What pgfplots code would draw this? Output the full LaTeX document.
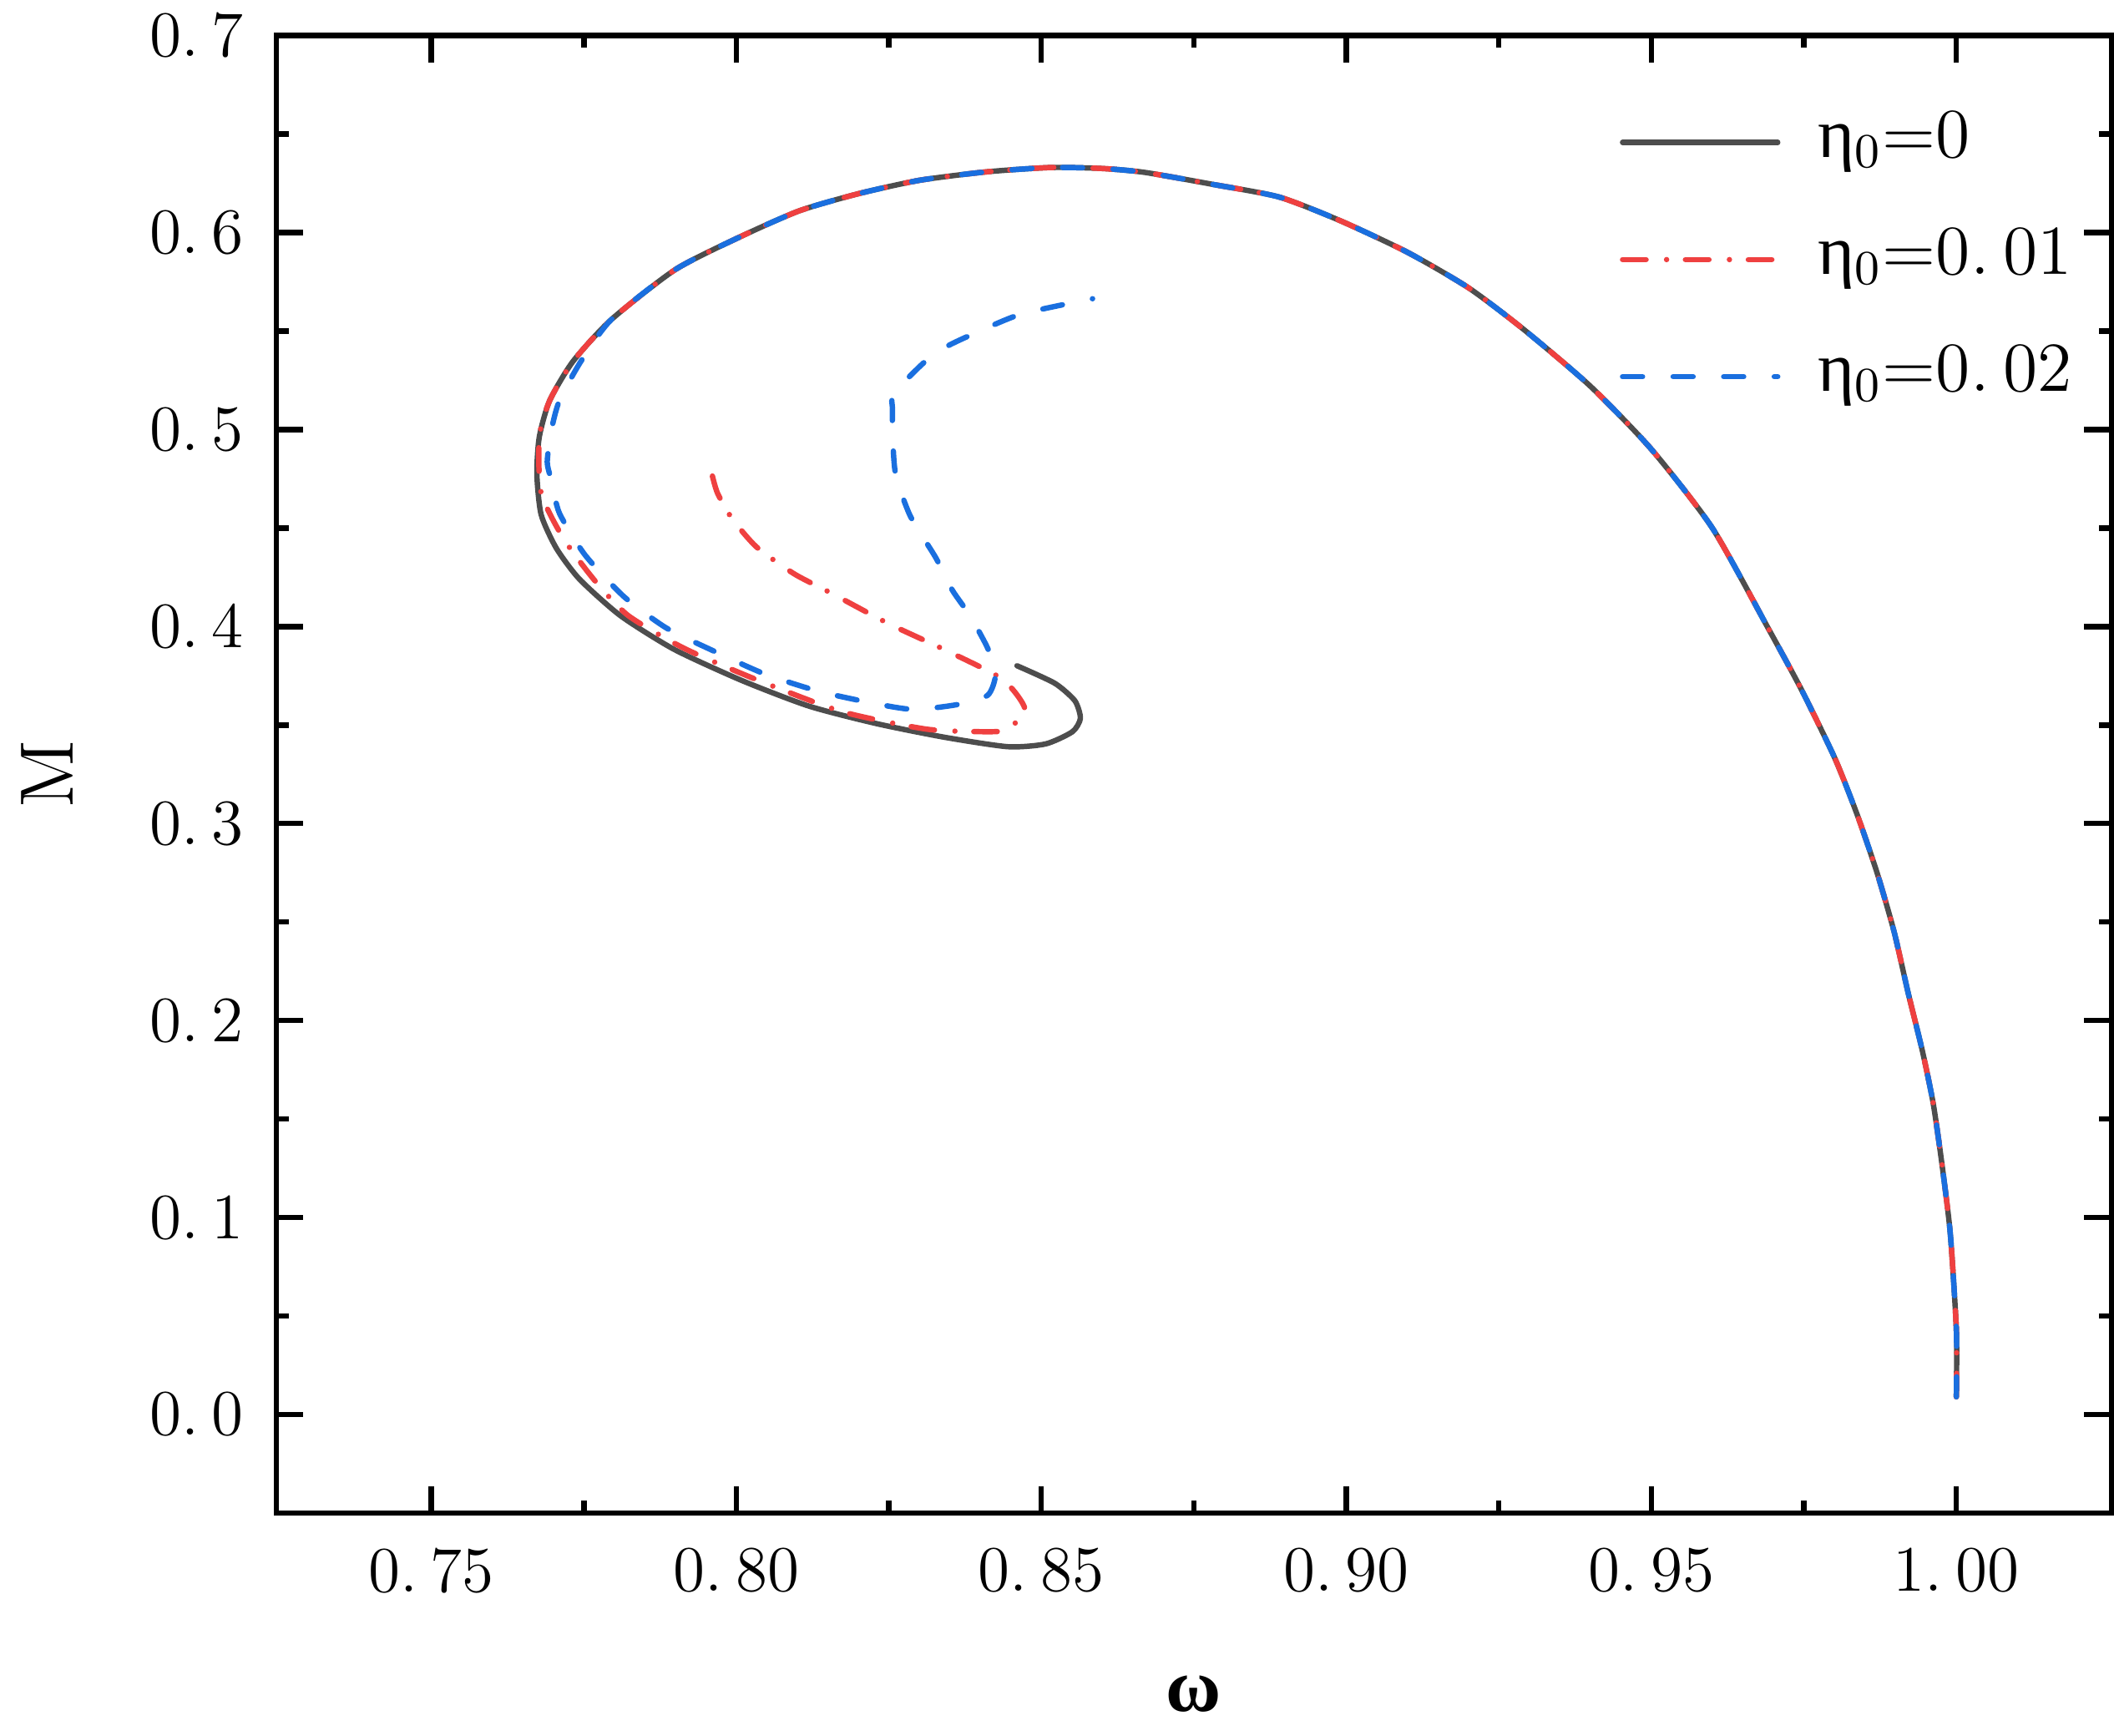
\documentclass[border=0pt]{standalone}
\usepackage{fontspec}
\usepackage{pgfplots}
\pgfplotsset{compat=1.18}
\newfontfamily\grk{Liberation Serif}
\definecolor{cblack}{HTML}{4D4D4D}
\definecolor{cred}{HTML}{EF4040}
\definecolor{cblue}{HTML}{1A6FDF}
\begin{document}
\begin{tikzpicture}
\begin{axis}[
  scale only axis,
  width=340pt, height=273.75pt,
  xmin=0.7246, xmax=1.0254,
  ymin=-0.05, ymax=0.7,
  xtick={0.75,0.80,0.85,0.90,0.95,1.00},
  xticklabels={0.\hspace{0.2em}75,0.\hspace{0.2em}80,0.\hspace{0.2em}85,0.\hspace{0.2em}90,0.\hspace{0.2em}95,1.\hspace{0.2em}00},
  ytick={0,0.1,0.2,0.3,0.4,0.5,0.6,0.7},
  yticklabels={0.\hspace{0.2em}0,0.\hspace{0.2em}1,0.\hspace{0.2em}2,0.\hspace{0.2em}3,0.\hspace{0.2em}4,0.\hspace{0.2em}5,0.\hspace{0.2em}6,0.\hspace{0.2em}7},
  minor x tick num=1, minor y tick num=1,
  tick align=inside,
  major tick length=5pt, minor tick length=2.3pt,
  every tick/.style={black, line width=1pt},
  axis line style={line width=1pt},
  tick label style={font=\fontsize{12}{14}\selectfont},
  xticklabel style={yshift=-3pt},
  yticklabel style={inner ysep=2.4pt, inner xsep=4pt, xshift=-1.85pt},
  xlabel={{\grk\bfseries ω}},
  ylabel={M},
  xlabel style={font=\fontsize{14}{16}\selectfont, at={(axis description cs:0.5,-0.1342)}, anchor=base, inner sep=4.3pt},
  ylabel style={font=\fontsize{14}{16}\selectfont, at={(axis description cs:-0.1251,0.5)}, anchor=center, inner sep=3.9pt},
  legend image code/.code={\draw[#1] (0pt,0pt) -- (28.75pt,0pt);},
  legend cell align=left,
  legend style={draw=none, fill=none, inner sep=0pt,
    at={(rel axis cs:0.7316,0.953)}, anchor=north west,
    font=\fontsize{13}{15}\selectfont,
    nodes={inner sep=0pt, text height=9.5pt, text depth=4pt},
    column sep=7pt, row sep=8.2pt},
]
% eta0 = 0
\addplot[cblack, line width=1pt, line cap=round, line join=round, smooth, tension=0.4] coordinates {
(1.0000,0.009) (1.0000,0.043) (0.9990,0.092) (0.9976,0.128) (0.9962,0.158)
(0.9944,0.185) (0.9921,0.214) (0.9898,0.245) (0.9870,0.275) (0.9838,0.304)
(0.9801,0.333) (0.9746,0.368) (0.9690,0.400) (0.9600,0.450) (0.9500,0.490)
(0.9400,0.522) (0.9290,0.551) (0.9200,0.572) (0.9100,0.590) (0.8990,0.606)
(0.8890,0.618) (0.8780,0.6245) (0.8670,0.6305) (0.8600,0.6325) (0.8515,0.6330)
(0.8410,0.6308) (0.8300,0.6265) (0.8200,0.6197) (0.8103,0.6110) (0.8004,0.5975)
(0.7900,0.5812) (0.7795,0.5558) (0.7732,0.5345) (0.7694,0.5147) (0.7677,0.4963)
(0.7673,0.4774) (0.7680,0.4568) (0.7705,0.4397) (0.7743,0.4240) (0.7810,0.4055)
(0.7898,0.3884) (0.8009,0.3726) (0.8119,0.3596) (0.8230,0.3507) (0.8341,0.3438)
(0.8445,0.3390) (0.8507,0.3404) (0.8551,0.3466) (0.8564,0.3534) (0.8555,0.3623)
(0.8522,0.3712) (0.8460,0.3801)
};
\addlegendentry{{\grk η}$_{0}$=0}
% eta0 = 0.01
\addplot[cred, line width=1pt, line cap=round, line join=round, smooth, tension=0.4, dash pattern=on 4.35pt off 3.8pt on 0pt off 3.5pt] coordinates {
(1.0000,0.009) (1.0000,0.043) (0.9990,0.092) (0.9976,0.128) (0.9962,0.158)
(0.9944,0.185) (0.9921,0.214) (0.9898,0.245) (0.9870,0.275) (0.9838,0.304)
(0.9801,0.333) (0.9746,0.368) (0.9690,0.400) (0.9600,0.450) (0.9500,0.490)
(0.9400,0.522) (0.9290,0.551) (0.9200,0.572) (0.9100,0.590) (0.8990,0.606)
(0.8890,0.618) (0.8780,0.6245) (0.8670,0.6305) (0.8600,0.6325) (0.8515,0.6330)
(0.8410,0.6308) (0.8300,0.6265) (0.8200,0.6197) (0.8103,0.6110) (0.8004,0.5975)
(0.7900,0.5812) (0.7795,0.5558) (0.7732,0.5345) (0.7694,0.5147) (0.7677,0.4963)
(0.7680,0.4678) (0.7717,0.4445) (0.7768,0.4233) (0.7823,0.4055) (0.7914,0.3890)
(0.8031,0.3733) (0.8173,0.3568) (0.8312,0.3479) (0.8412,0.3466) (0.8445,0.3479)
(0.8473,0.3582) (0.8436,0.3733) (0.8345,0.3877) (0.8250,0.4014) (0.8159,0.4164)
(0.8095,0.4267) (0.8033,0.4404) (0.7993,0.4548) (0.7969,0.4678) (0.7960,0.4774)
};
\addlegendentry{{\grk η}$_{0}$=0.\hspace{0.2em}01}
% eta0 = 0.02
\addplot[cblue, line width=1pt, line cap=round, line join=round, smooth, tension=0.4, dash pattern=on 3.7pt off 5.67pt] coordinates {
(1.0000,0.009) (1.0000,0.043) (0.9990,0.092) (0.9976,0.128) (0.9962,0.158)
(0.9944,0.185) (0.9921,0.214) (0.9898,0.245) (0.9870,0.275) (0.9838,0.304)
(0.9801,0.333) (0.9746,0.368) (0.9690,0.400) (0.9600,0.450) (0.9500,0.490)
(0.9400,0.522) (0.9290,0.551) (0.9200,0.572) (0.9100,0.590) (0.8990,0.606)
(0.8890,0.618) (0.8780,0.6245) (0.8670,0.6305) (0.8600,0.6325) (0.8515,0.6330)
(0.8410,0.6308) (0.8300,0.6265) (0.8200,0.6197) (0.8103,0.6110) (0.8004,0.5975)
(0.7900,0.5812) (0.7795,0.5558) (0.7745,0.5345) (0.7710,0.5147) (0.7697,0.5000)
(0.7690,0.4836) (0.7697,0.4740) (0.7710,0.4575) (0.7752,0.4363) (0.7816,0.4151)
(0.7885,0.3993) (0.7962,0.3877) (0.8046,0.3760) (0.8144,0.3664) (0.8279,0.3582)
(0.8361,0.3603) (0.8412,0.3651) (0.8425,0.3760) (0.8412,0.3890) (0.8383,0.4055)
(0.8354,0.4185) (0.8327,0.4349) (0.8285,0.4562) (0.8261,0.4774) (0.8256,0.4986)
(0.8256,0.5103) (0.8256,0.5175) (0.8281,0.5260) (0.8312,0.5352) (0.8347,0.5425)
(0.8389,0.5486) (0.8467,0.5586) (0.8584,0.5664)
};
\addlegendentry{{\grk η}$_{0}$=0.\hspace{0.2em}02}
\end{axis}
\end{tikzpicture}
\end{document}
